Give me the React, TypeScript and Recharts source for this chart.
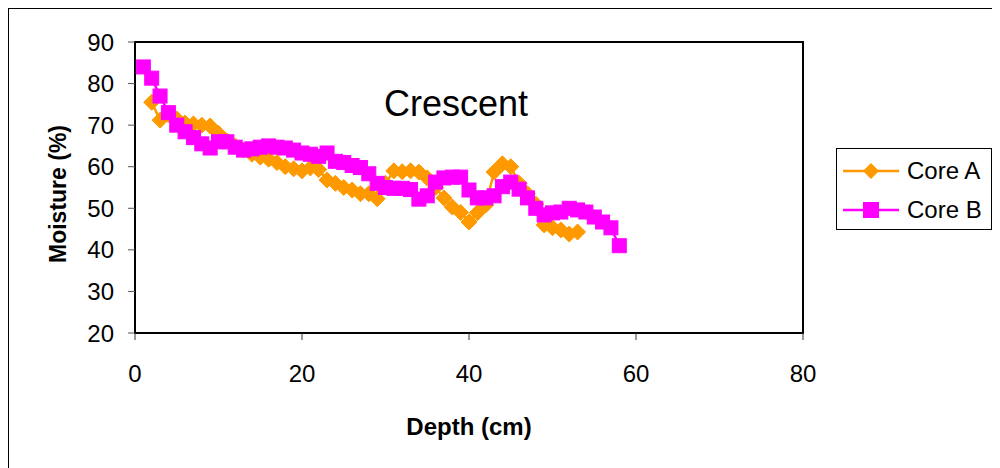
import { LineChart, Line, XAxis, YAxis, ReferenceArea, Label } from 'recharts';

const depthA = [2, 3, 4, 5, 6, 7, 8, 9, 10, 11, 12, 13, 14, 15, 16, 17, 18, 19, 20, 21, 22, 23, 24, 25, 26, 27, 28, 29, 30, 31, 32, 33, 34, 35, 36, 37, 38, 39, 40, 41, 42, 43, 44, 45, 46, 47, 48, 49, 50, 51, 52, 53];
const moistureA = [75.5, 71.2, 72.5, 71.5, 70.5, 70.3, 70, 69.8, 68, 66.2, 65, 64, 63, 62.3, 61.8, 61, 60, 59.5, 59, 59.7, 59.3, 56.8, 56, 55, 54.4, 53.5, 53.5, 52.3, 56, 59, 58.8, 59, 58.7, 57.3, 55, 52.5, 50.3, 49, 46.7, 48.9, 50.8, 58.7, 60.7, 60, 56, 53.5, 51, 46, 45.3, 44.8, 43.8, 44.3];

const depthB = [1, 2, 3, 4, 5, 6, 7, 8, 9, 10, 11, 12, 13, 14, 15, 16, 17, 18, 19, 20, 21, 22, 23, 24, 25, 26, 27, 28, 29, 30, 31, 32, 33, 34, 35, 36, 37, 38, 39, 40, 41, 42, 43, 44, 45, 46, 47, 48, 49, 50, 51, 52, 53, 54, 55, 56, 57, 58];
const moistureB = [84, 81.3, 77, 73, 70, 68.4, 67, 65.5, 64.5, 66, 66, 64.7, 64, 64.3, 64.7, 65, 64.7, 64.5, 64, 63.3, 63, 62.5, 63.3, 61.3, 61, 60.3, 59.8, 58.3, 56, 55, 54.8, 54.8, 54.5, 52.2, 53, 56.3, 57.3, 57.5, 57.5, 54.4, 52.5, 52.5, 53, 55.2, 56.3, 54.6, 52.5, 50, 48.4, 48.9, 49.1, 50, 49.6, 49.1, 47.9, 46.7, 45.3, 41];

const xTicks = [0, 20, 40, 60, 80];
const yTicks = [20, 30, 40, 50, 60, 70, 80, 90];

const dataA = depthA.map((d, i) => ({ depth: d, value: moistureA[i] }));
const dataB = depthB.map((d, i) => ({ depth: d, value: moistureB[i] }));

const ORANGE = '#FF9900';
const MAGENTA = '#FF00FF';
const FONT = '"Liberation Sans", Arial, sans-serif';

const Diamond = (props: any) => {
  const { cx, cy } = props;
  if (cx == null || cy == null) return null;
  const r = 8;
  return <path d={`M${cx},${cy - r}L${cx + r},${cy}L${cx},${cy + r}L${cx - r},${cy}Z`} fill={ORANGE} stroke={ORANGE} />;
};

const Square = (props: any) => {
  const { cx, cy } = props;
  if (cx == null || cy == null) return null;
  const r = 7;
  return <rect x={cx - r} y={cy - r} width={r * 2} height={r * 2} fill={MAGENTA} stroke={MAGENTA} />;
};

const legendItems = [
  { name: 'Core A', color: ORANGE, shape: 'diamond' },
  { name: 'Core B', color: MAGENTA, shape: 'square' },
];

// legend drawn as plain html so recharts doesn't reserve room for it
const LegendBox = () => (
  <div
    style={{
      position: 'absolute',
      left: 827,
      top: 139,
      border: '1px solid #000',
      width: 156,
      height: 82,
      boxSizing: 'border-box',
      background: '#fff',
      fontFamily: FONT,
      fontSize: 24,
      color: '#000',
    }}
  >
    {legendItems.map((item, i) => (
      <div key={item.name} style={{ display: 'flex', alignItems: 'center', height: 39, marginTop: i === 0 ? 2 : 0 }}>
        <svg width={70} height={20} style={{ marginLeft: 6 }}>
          <line x1={0} y1={10} x2={56} y2={10} stroke={item.color} strokeWidth={2.5} />
          {item.shape === 'diamond' ? (
            <path d="M28,2L36,10L28,18L20,10Z" fill={item.color} />
          ) : (
            <rect x={20} y={2} width={16} height={16} fill={item.color} />
          )}
        </svg>
        <span style={{ marginLeft: -6 }}>{item.name}</span>
      </div>
    ))}
  </div>
);

export default function App() {
  return (
    <div
      style={{
        position: 'relative',
        width: 992,
        height: 460,
        borderTop: '1px solid #000',
        borderLeft: '1px solid #000',
        boxSizing: 'border-box',
        background: '#fff',
      }}
    >
      <LineChart width={990} height={459} margin={{ top: 33, right: 196, left: 0, bottom: 0 }}>
        <XAxis
          type="number"
          dataKey="depth"
          domain={[0, 80]}
          ticks={xTicks}
          interval={0}
          tickSize={7}
          tickMargin={25}
          axisLine={{ stroke: '#000', strokeWidth: 2 }}
          tickLine={{ stroke: '#333' }}
          tick={{ fontSize: 24, fill: '#000', fontFamily: FONT }}
          height={135}
          allowDuplicatedCategory={false}
        >
          <Label
            value="Depth (cm)"
            position="insideBottom"
            offset={33}
            style={{ fontSize: 24, fontWeight: 'bold', fill: '#000', fontFamily: FONT }}
          />
        </XAxis>
        <YAxis
          type="number"
          domain={[20, 90]}
          ticks={yTicks}
          interval={0}
          tickSize={7}
          tickMargin={14}
          width={126}
          axisLine={{ stroke: '#000', strokeWidth: 2 }}
          tickLine={{ stroke: '#555' }}
          tick={{ fontSize: 24, fill: '#000', fontFamily: FONT }}
        >
          <Label
            content={() => (
              <text
                x={49}
                y={185}
                transform="rotate(-90 49 185)"
                textAnchor="middle"
                dominantBaseline="central"
                style={{ fontSize: 23, fontWeight: 'bold', fill: '#000', fontFamily: FONT }}
              >
                Moisture (%)
              </text>
            )}
          />
        </YAxis>
        <ReferenceArea x1={0} x2={80} y1={20} y2={90} fill="none" stroke="#000" strokeWidth={2} ifOverflow="visible" />
        <Line
          data={dataA}
          dataKey="value"
          name="Core A"
          stroke={ORANGE}
          strokeWidth={2.5}
          dot={<Diamond />}
          activeDot={false}
          isAnimationActive={false}
        />
        <Line
          data={dataB}
          dataKey="value"
          name="Core B"
          stroke={MAGENTA}
          strokeWidth={2.5}
          dot={<Square />}
          activeDot={false}
          isAnimationActive={false}
        />
      </LineChart>
      <LegendBox />
      <div
        style={{
          position: 'absolute',
          left: 447,
          top: 74,
          transform: 'translateX(-50%)',
          fontFamily: FONT,
          fontSize: 36,
          color: '#000',
          whiteSpace: 'nowrap',
        }}
      >
        Crescent
      </div>
    </div>
  );
}
